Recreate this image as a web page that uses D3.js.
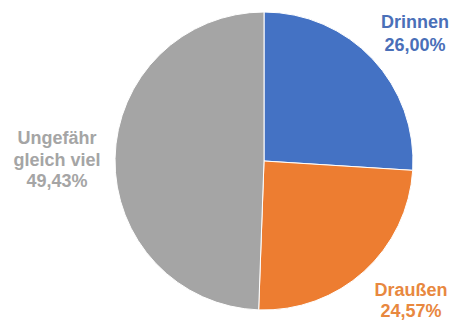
<!DOCTYPE html>
<html><head><meta charset="utf-8">
<script src="https://cdn.jsdelivr.net/npm/d3@7"></script>
<style>html,body{margin:0;padding:0;background:#fff;}</style>
</head><body>
<svg id="chart" width="454" height="321"></svg>
<script>
const categories = ["Drinnen", "Draußen", "Ungefähr gleich viel"];
const values = [26.00, 24.57, 49.43];
const valueLabels = ["26,00%", "24,57%", "49,43%"];
const colors = ["#4472C4", "#ED7D31", "#A5A5A5"];
const labelColors = ["#4A6FB8", "#E8883F", "#A5A5A5"];

const svg = d3.select("#chart");
const cx = 264, cy = 161, r = 149;
const g = svg.append("g").attr("transform", `translate(${cx},${cy})`);
const pie = d3.pie().sort(null).value(d => d)(values);
const arc = d3.arc().innerRadius(0).outerRadius(r);
g.selectAll("path").data(pie).join("path")
  .attr("d", arc)
  .attr("fill", (d, i) => colors[i])
  .attr("stroke", "#fff").attr("stroke-width", 1);

const labelLines = [
  [categories[0], valueLabels[0]],
  [categories[1], valueLabels[1]],
  ["Ungefähr", "gleich viel", valueLabels[2]]
];
const labelPos = [[415, 28, 23], [411, 296, 21], [57, 144, 21.5]];
labelLines.forEach((lines, i) => {
  const t = svg.append("text")
    .attr("text-anchor", "middle")
    .attr("font-family", "Liberation Sans, Arial, sans-serif")
    .attr("font-weight", "bold")
    .attr("font-size", 18)
    .attr("fill", labelColors[i]);
  lines.forEach((s, j) => {
    t.append("tspan").attr("x", labelPos[i][0]).attr("y", labelPos[i][1] + j * labelPos[i][2]).text(s);
  });
});
</script>
</body></html>
